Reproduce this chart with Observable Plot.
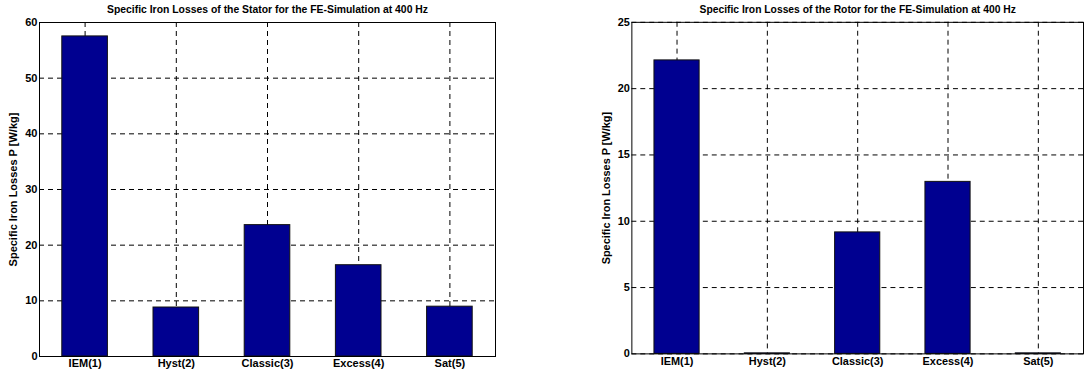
<!DOCTYPE html>
<html>
<head>
<meta charset="utf-8">
<script src="https://cdn.jsdelivr.net/npm/d3@7"></script>
<script src="https://cdn.jsdelivr.net/npm/@observablehq/plot@0.6"></script>
<style>
  html, body { margin: 0; padding: 0; background: #fff; }
  #wrap { position: relative; width: 1086px; height: 379px; overflow: hidden; }
  #stator, #rotor { position: absolute; top: 0; }
  #stator { left: 0; }
  #rotor { left: 545px; }
</style>
</head>
<body>
<div id="wrap"><div id="stator"></div><div id="rotor"></div></div>
<script>
const categories = ["IEM(1)", "Hyst(2)", "Classic(3)", "Excess(4)", "Sat(5)"];
const statorLosses = [57.5, 8.8, 23.6, 16.4, 8.95];
const rotorLosses = [22.13, 0.04, 9.16, 12.97, 0.04];
const statorTicks = [0, 10, 20, 30, 40, 50, 60];
const rotorTicks = [0, 5, 10, 15, 20, 25];
const statorTitle = "Specific Iron Losses of the Stator for the FE-Simulation at 400 Hz";
const rotorTitle = "Specific Iron Losses of the Rotor for the FE-Simulation at 400 Hz";
const yLabel = "Specific Iron Losses P [W/kg]";

const positions = categories.map((c, i) => i + 1);
const font = "'Liberation Sans', Arial, Helvetica, sans-serif";

function chart(values, ticks, title, opts) {
  const rows = categories.map((c, i) => ({cat: c, idx: i + 1, v: values[i]}));
  const dash = {stroke: "#000", strokeOpacity: 1, strokeWidth: 1, strokeDasharray: "5,4"};
  return Plot.plot({
    width: 545,
    height: 379,
    marginTop: 22,
    marginBottom: 23,
    marginLeft: opts.marginLeft,
    marginRight: opts.marginRight,
    style: {fontFamily: font, fontWeight: "bold", fontSize: "11px", background: "#fff", color: "#000"},
    x: {type: "linear", domain: [0.5, 5.5]},
    y: {domain: [ticks[0], ticks[ticks.length - 1]]},
    marks: [
      Plot.gridY(ticks, dash),
      Plot.gridX(positions, dash),
      Plot.rectY(rows, {x1: d => d.idx - 0.25, x2: d => d.idx + 0.25, y: "v", fill: "#000090", stroke: "#111", strokeWidth: 1}),
      Plot.frame({stroke: "#000", strokeWidth: 1}),
      Plot.axisX(positions, {tickSize: 0, tickPadding: 3, tickFormat: i => categories[i - 1], label: null, fontWeight: "bold", fontSize: 11}),
      Plot.axisY(ticks, {tickSize: 0, tickPadding: 2, label: null, fontWeight: "bold", fontSize: 11}),
      Plot.text([title], {frameAnchor: "top", dy: -13, lineAnchor: "middle", fontWeight: "bold", fontSize: 10.4}),
      Plot.text([yLabel], {frameAnchor: "left", rotate: -90, dx: -26, textAnchor: "middle", lineAnchor: "middle", fontWeight: "bold", fontSize: 11})
    ]
  });
}

document.getElementById("stator").append(chart(statorLosses, statorTicks, statorTitle, {marginLeft: 39, marginRight: 50}));
document.getElementById("rotor").append(chart(rotorLosses, rotorTicks, rotorTitle, {marginLeft: 87, marginRight: 3}));
</script>
</body>
</html>
